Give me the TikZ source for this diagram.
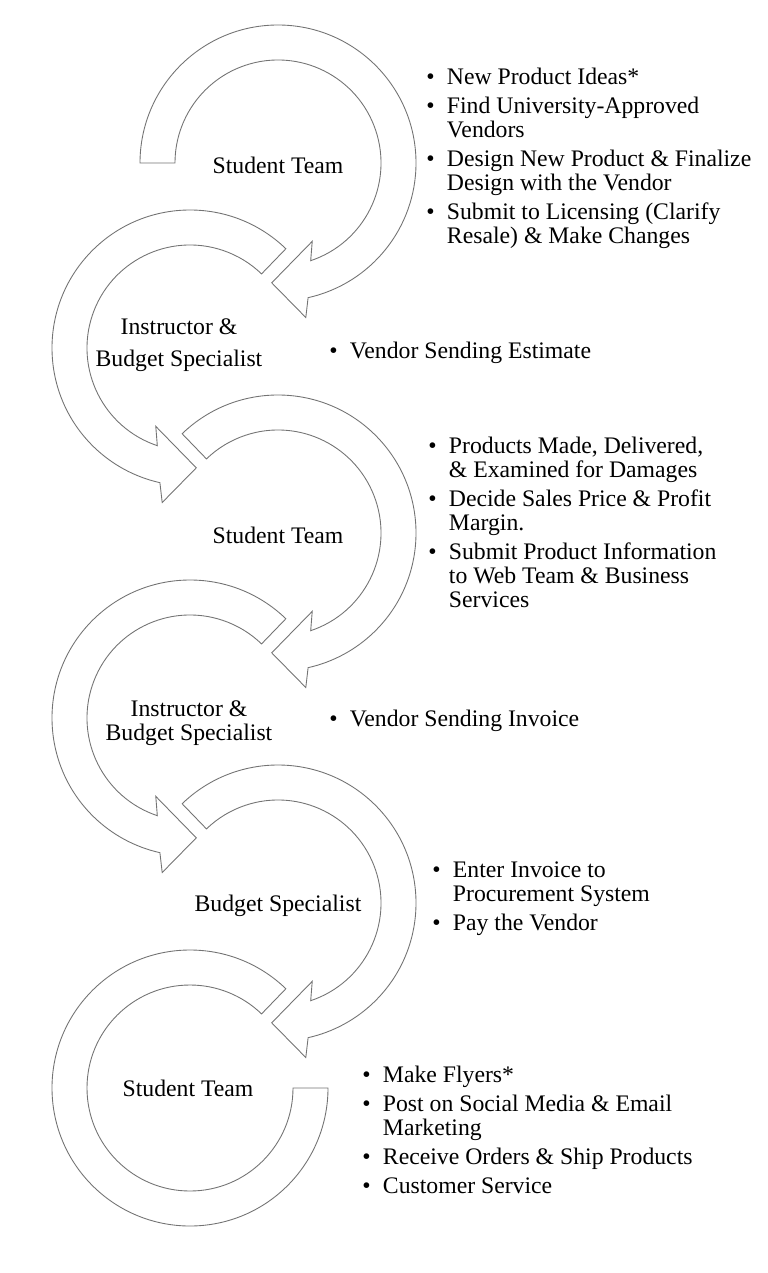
\documentclass[tikz,border=0pt]{standalone}
\usepackage{fontspec}
\setmainfont{Liberation Serif}
\tikzset{
    band/.style={draw=black!55, line width=0.5pt, fill=white, line join=miter},
    role/.style={align=center},
    notes/.style={anchor=west, inner sep=0pt}
}
\begin{document}
\begin{tikzpicture}[x=0.02cm, y=-0.02cm, font=\fontsize{13.5}{13.6}\selectfont]
        \useasboundingbox (0,0) rectangle (767,1273);
        % circular arrows
        \draw[band, shift={(278,163)}] (180:138) arc[start angle=180, end angle=437.4, radius=138] -- (439.8:157) -- (453:120) -- (426.4:85.5) -- (431.5:103) arc[start angle=431.5, end angle=180, radius=103] -- cycle;
        \draw[band, shift={(190,348)}] (-46:138) arc[start angle=-46, end angle=-257.4, radius=138] -- (-259.8:157) -- (-273:120) -- (-246.4:85.5) -- (-251.5:103) arc[start angle=-251.5, end angle=-46, radius=103] -- cycle;
        \draw[band, shift={(278,533)}] (226:138) arc[start angle=226, end angle=437.4, radius=138] -- (439.8:157) -- (453:120) -- (426.4:85.5) -- (431.5:103) arc[start angle=431.5, end angle=226, radius=103] -- cycle;
        \draw[band, shift={(190,718)}] (-46:138) arc[start angle=-46, end angle=-257.4, radius=138] -- (-259.8:157) -- (-273:120) -- (-246.4:85.5) -- (-251.5:103) arc[start angle=-251.5, end angle=-46, radius=103] -- cycle;
        \draw[band, shift={(278,903)}] (226:138) arc[start angle=226, end angle=437.4, radius=138] -- (439.8:157) -- (453:120) -- (426.4:85.5) -- (431.5:103) arc[start angle=431.5, end angle=226, radius=103] -- cycle;
        \draw[band, shift={(190,1088)}] (-46:138) arc[start angle=-46, end angle=-360, radius=138] -- (0:103) arc[start angle=-360, end angle=-46, radius=103] -- cycle;
        % roles
        \node[role] (st1) at (278,165) {Student Team};
        \node[role] (ibs1) at (179,345) {Instructor \&\\[4.5pt] Budget Specialist};
        \node[role] (st2) at (278,535) {Student Team};
        \node[role] (ibs2) at (189,723) {Instructor \&\\ Budget Specialist};
        \node[role] (bs) at (278,906) {Budget Specialist};
        \node[role] (st3) at (188,1088) {Student Team};
        % tasks
        \node[notes] (n1) at (426,159) {\begin{tabular}{@{}l@{\hspace{7pt}}l@{}}
            \textbullet & New Product Ideas*\\[3pt]
            \textbullet & Find University-Approved\\
            & Vendors\\[3pt]
            \textbullet & Design New Product \& Finalize\\
            & Design with the Vendor\\[3pt]
            \textbullet & Submit to Licensing (Clarify\\
            & Resale) \& Make Changes
        \end{tabular}};
        \node[notes] (n2) at (329,354) {\begin{tabular}{@{}l@{\hspace{7pt}}l@{}}
            \textbullet & Vendor Sending Estimate
        \end{tabular}};
        \node[notes] (n3) at (428,526) {\begin{tabular}{@{}l@{\hspace{7pt}}l@{}}
            \textbullet & Products Made, Delivered,\\
            & \& Examined for Damages\\[3pt]
            \textbullet & Decide Sales Price \& Profit\\
            & Margin.\\[3pt]
            \textbullet & Submit Product Information\\
            & to Web Team \& Business\\
            & Services
        \end{tabular}};
        \node[notes] (n4) at (329,722) {\begin{tabular}{@{}l@{\hspace{7pt}}l@{}}
            \textbullet & Vendor Sending Invoice
        \end{tabular}};
        \node[notes] (n5) at (432,899) {\begin{tabular}{@{}l@{\hspace{7pt}}l@{}}
            \textbullet & Enter Invoice to\\
            & Procurement System\\[3pt]
            \textbullet & Pay the Vendor
        \end{tabular}};
        \node[notes] (n6) at (362,1133) {\begin{tabular}{@{}l@{\hspace{7pt}}l@{}}
            \textbullet & Make Flyers*\\[3pt]
            \textbullet & Post on Social Media \& Email\\
            & Marketing\\[3pt]
            \textbullet & Receive Orders \& Ship Products\\[3pt]
            \textbullet & Customer Service
        \end{tabular}};
    \end{tikzpicture}
\end{document}
